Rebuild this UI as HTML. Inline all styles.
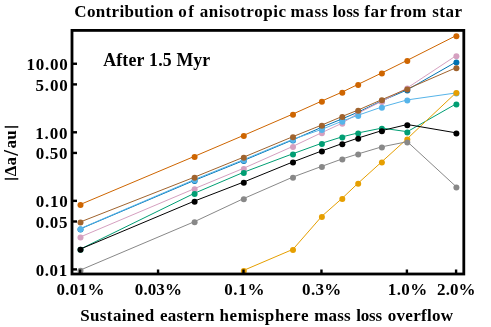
<!DOCTYPE html>
<html><head><meta charset="utf-8"><title>chart</title>
<style>
html,body{margin:0;padding:0;background:#fff;}
body{width:491px;height:327px;overflow:hidden;font-family:"Liberation Serif",serif;}
svg{display:block;will-change:transform;}
text{font-family:"Liberation Serif",serif;font-weight:bold;fill:#000;font-kerning:none;font-variant-ligatures:none;white-space:pre;}
</style></head><body>
<svg width="491" height="327" viewBox="0 0 491 327">
<rect width="491" height="327" fill="#fff"/>
<g fill="#0072B2"><polyline fill="none" stroke="#0072B2" stroke-width="1.0" points="80.5,228.8 194.6,180.3 243.8,160.4 293.0,139.8 321.9,127.2 342.3,118.8 358.2,112.1 381.9,100.8 407.3,89.8 456.4,61.8"/><circle cx="80.5" cy="229.5" r="3.0"/><circle cx="194.6" cy="181.0" r="3.0"/><circle cx="243.8" cy="161.1" r="3.0"/><circle cx="293.0" cy="140.5" r="3.0"/><circle cx="321.9" cy="127.9" r="3.0"/><circle cx="342.3" cy="119.5" r="3.0"/><circle cx="358.2" cy="112.8" r="3.0"/><circle cx="381.9" cy="101.5" r="3.0"/><circle cx="407.3" cy="90.5" r="3.0"/><circle cx="456.4" cy="62.5" r="3.0"/></g>
<g fill="#D5A0C0"><polyline fill="none" stroke="#D5A0C0" stroke-width="1.0" points="80.5,236.9 194.6,188.6 243.8,168.2 293.0,146.3 321.9,132.6 342.3,123.1 358.2,113.1 381.9,101.3 407.3,87.9 456.4,55.5"/><circle cx="80.5" cy="237.6" r="3.0"/><circle cx="194.6" cy="189.3" r="3.0"/><circle cx="243.8" cy="168.9" r="3.0"/><circle cx="293.0" cy="147.0" r="3.0"/><circle cx="321.9" cy="133.3" r="3.0"/><circle cx="342.3" cy="123.8" r="3.0"/><circle cx="358.2" cy="113.8" r="3.0"/><circle cx="381.9" cy="102.0" r="3.0"/><circle cx="407.3" cy="88.6" r="3.0"/><circle cx="456.4" cy="56.2" r="3.0"/></g>
<g fill="#009E73"><polyline fill="none" stroke="#009E73" stroke-width="1.0" points="80.5,249.0 194.6,193.2 243.8,172.2 293.0,153.7 321.9,143.2 342.3,136.8 358.2,132.9 381.9,128.1 407.3,131.7 456.4,103.7"/><circle cx="80.5" cy="249.7" r="3.0"/><circle cx="194.6" cy="193.9" r="3.0"/><circle cx="243.8" cy="172.9" r="3.0"/><circle cx="293.0" cy="154.4" r="3.0"/><circle cx="321.9" cy="143.9" r="3.0"/><circle cx="342.3" cy="137.5" r="3.0"/><circle cx="358.2" cy="133.6" r="3.0"/><circle cx="381.9" cy="128.8" r="3.0"/><circle cx="407.3" cy="132.4" r="3.0"/><circle cx="456.4" cy="104.4" r="3.0"/></g>
<g fill="#56B4E9"><polyline fill="none" stroke="#56B4E9" stroke-width="1.0" points="80.5,228.5 194.6,179.5 243.8,159.6 293.0,139.2 321.9,129.3 342.3,121.1 358.2,115.2 381.9,107.0 407.3,99.9 456.4,92.9"/><circle cx="80.5" cy="229.2" r="3.0"/><circle cx="194.6" cy="180.2" r="3.0"/><circle cx="243.8" cy="160.3" r="3.0"/><circle cx="293.0" cy="139.9" r="3.0"/><circle cx="321.9" cy="130.0" r="3.0"/><circle cx="342.3" cy="121.8" r="3.0"/><circle cx="358.2" cy="115.9" r="3.0"/><circle cx="381.9" cy="107.7" r="3.0"/><circle cx="407.3" cy="100.6" r="3.0"/><circle cx="456.4" cy="93.6" r="3.0"/></g>
<g fill="#E69F00"><polyline fill="none" stroke="#E69F00" stroke-width="1.0" points="243.8,270.3 293.0,249.3 321.9,216.2 342.3,198.2 358.2,183.1 381.9,161.7 407.3,138.7 456.4,92.4"/><circle cx="243.8" cy="271.0" r="3.0"/><circle cx="293.0" cy="250.0" r="3.0"/><circle cx="321.9" cy="216.9" r="3.0"/><circle cx="342.3" cy="198.9" r="3.0"/><circle cx="358.2" cy="183.8" r="3.0"/><circle cx="381.9" cy="162.4" r="3.0"/><circle cx="407.3" cy="139.4" r="3.0"/><circle cx="456.4" cy="93.1" r="3.0"/></g>
<g fill="#888888"><polyline fill="none" stroke="#888888" stroke-width="1.0" points="80.5,270.0 194.6,221.6 243.8,198.5 293.0,177.0 321.9,166.3 342.3,158.9 358.2,153.9 381.9,146.8 407.3,141.7 456.4,186.9"/><circle cx="80.5" cy="270.7" r="3.0"/><circle cx="194.6" cy="222.3" r="3.0"/><circle cx="243.8" cy="199.2" r="3.0"/><circle cx="293.0" cy="177.7" r="3.0"/><circle cx="321.9" cy="167.0" r="3.0"/><circle cx="342.3" cy="159.6" r="3.0"/><circle cx="358.2" cy="154.6" r="3.0"/><circle cx="381.9" cy="147.5" r="3.0"/><circle cx="407.3" cy="142.4" r="3.0"/><circle cx="456.4" cy="187.6" r="3.0"/></g>
<g fill="#A0632D"><polyline fill="none" stroke="#A0632D" stroke-width="1.0" points="80.5,221.9 194.6,177.1 243.8,157.1 293.0,136.6 321.9,125.0 342.3,116.4 358.2,110.0 381.9,99.6 407.3,88.9 456.4,67.6"/><circle cx="80.5" cy="222.6" r="3.0"/><circle cx="194.6" cy="177.8" r="3.0"/><circle cx="243.8" cy="157.8" r="3.0"/><circle cx="293.0" cy="137.3" r="3.0"/><circle cx="321.9" cy="125.7" r="3.0"/><circle cx="342.3" cy="117.1" r="3.0"/><circle cx="358.2" cy="110.7" r="3.0"/><circle cx="381.9" cy="100.3" r="3.0"/><circle cx="407.3" cy="89.6" r="3.0"/><circle cx="456.4" cy="68.3" r="3.0"/></g>
<g fill="#000000"><polyline fill="none" stroke="#000000" stroke-width="1.0" points="80.5,249.0 194.6,201.0 243.8,182.0 293.0,161.9 321.9,150.9 342.3,143.5 358.2,138.0 381.9,130.6 407.3,124.5 456.4,132.9"/><circle cx="80.5" cy="249.7" r="3.0"/><circle cx="194.6" cy="201.7" r="3.0"/><circle cx="243.8" cy="182.7" r="3.0"/><circle cx="293.0" cy="162.6" r="3.0"/><circle cx="321.9" cy="151.6" r="3.0"/><circle cx="342.3" cy="144.2" r="3.0"/><circle cx="358.2" cy="138.7" r="3.0"/><circle cx="381.9" cy="131.3" r="3.0"/><circle cx="407.3" cy="125.2" r="3.0"/><circle cx="456.4" cy="133.6" r="3.0"/></g>
<g fill="#CE6500"><polyline fill="none" stroke="#CE6500" stroke-width="1.0" points="80.5,204.4 194.6,156.3 243.8,135.3 293.0,114.0 321.9,101.0 342.3,92.0 358.2,84.3 381.9,72.9 407.3,60.3 456.4,35.5"/><circle cx="80.5" cy="205.1" r="3.0"/><circle cx="194.6" cy="157.0" r="3.0"/><circle cx="243.8" cy="136.0" r="3.0"/><circle cx="293.0" cy="114.7" r="3.0"/><circle cx="321.9" cy="101.7" r="3.0"/><circle cx="342.3" cy="92.7" r="3.0"/><circle cx="358.2" cy="85.0" r="3.0"/><circle cx="381.9" cy="73.6" r="3.0"/><circle cx="407.3" cy="61.0" r="3.0"/><circle cx="456.4" cy="36.2" r="3.0"/></g>
<rect x="72.0" y="30.4" width="391.8" height="243.6" fill="none" stroke="#000" stroke-width="2.8"/>
<g stroke="#000" stroke-width="2.4"><line x1="72.0" y1="63.75" x2="77.0" y2="63.75"/><line x1="72.0" y1="84.39" x2="77.0" y2="84.39"/><line x1="72.0" y1="132.30" x2="77.0" y2="132.30"/><line x1="72.0" y1="152.94" x2="77.0" y2="152.94"/><line x1="72.0" y1="200.85" x2="77.0" y2="200.85"/><line x1="72.0" y1="221.49" x2="77.0" y2="221.49"/><line x1="72.0" y1="269.40" x2="77.0" y2="269.40"/><line x1="80.10" y1="274.0" x2="80.10" y2="269.5"/><line x1="158.06" y1="274.0" x2="158.06" y2="269.5"/><line x1="243.50" y1="274.0" x2="243.50" y2="269.5"/><line x1="321.46" y1="274.0" x2="321.46" y2="269.5"/><line x1="406.90" y1="274.0" x2="406.90" y2="269.5"/><line x1="456.09" y1="274.0" x2="456.09" y2="269.5"/></g>
<g><text x="26.54" y="70.05" font-size="17" letter-spacing="0.740">10.00</text><text x="35.62" y="90.69" font-size="17" letter-spacing="0.759">5.00</text><text x="35.34" y="138.60" font-size="17" letter-spacing="0.786">1.00</text><text x="35.75" y="159.24" font-size="17" letter-spacing="0.648">0.50</text><text x="35.65" y="207.15" font-size="17" letter-spacing="0.748">0.10</text><text x="35.65" y="227.79" font-size="17" letter-spacing="0.740">0.05</text><text x="35.65" y="275.70" font-size="17" letter-spacing="0.592">0.01</text><text x="56.45" y="294.60" font-size="17" letter-spacing="0.298">0.01%</text><text x="134.85" y="294.60" font-size="17" letter-spacing="0.073">0.03%</text><text x="224.15" y="294.60" font-size="17" letter-spacing="0.664">0.1%</text><text x="302.05" y="294.60" font-size="17" letter-spacing="0.330">0.3%</text><text x="387.74" y="294.60" font-size="17" letter-spacing="0.402">1.0%</text><text x="437.09" y="294.60" font-size="17" letter-spacing="0.086">2.0%</text></g>
<g><text x="74.27" y="17.30" font-size="17" letter-spacing="0.343">Contribution</text><text x="178.25" y="17.30" font-size="17" letter-spacing="1.420">of</text><text x="199.85" y="17.30" font-size="17" letter-spacing="0.495">anisotropic</text><text x="290.54" y="17.30" font-size="17" letter-spacing="0.593">mass</text><text x="332.87" y="17.30" font-size="17" letter-spacing="0.031">loss</text><text x="364.18" y="17.30" font-size="17" letter-spacing="0.592">far</text><text x="390.18" y="17.30" font-size="17" letter-spacing="0.116">from</text><text x="432.29" y="17.30" font-size="17" letter-spacing="0.453">star</text></g>
<g><text x="80.20" y="321.30" font-size="17" letter-spacing="0.379">Sustained</text><text x="159.92" y="321.30" font-size="17" letter-spacing="0.262">eastern</text><text x="219.58" y="321.30" font-size="17" letter-spacing="0.558">hemisphere</text><text x="314.34" y="321.30" font-size="17" letter-spacing="0.126">mass</text><text x="356.17" y="321.30" font-size="17" letter-spacing="-0.203">loss</text><text x="387.75" y="321.30" font-size="17" letter-spacing="0.298">overflow</text></g>
<text x="103.3" y="66.4" font-size="17.8" letter-spacing="0.15">After 1.5 Myr</text>
<text transform="translate(16.3,180) rotate(-90)" font-size="17" x="-0.6 3.8 14.55 24.35 31.45 40.17 51.45" y="0"><tspan font-size="15" dy="-1.6" stroke="#000" stroke-width="0.5">|</tspan><tspan dy="1.6">&#916;</tspan>a<tspan font-size="20.5" dy="1.8">/</tspan><tspan dy="-1.8">a</tspan>u<tspan font-size="15" dy="-1.6" stroke="#000" stroke-width="0.5">|</tspan></text>
</svg>
</body></html>
